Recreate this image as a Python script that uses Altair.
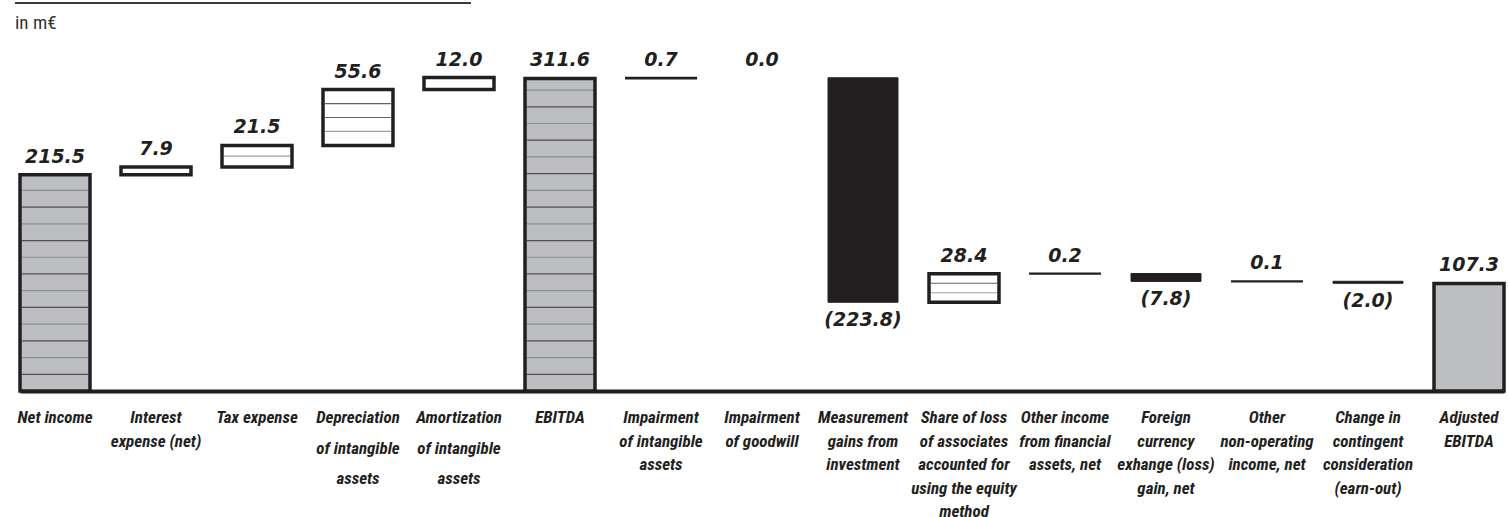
import altair as alt
import pandas as pd

# Bridge from net income to adjusted EBITDA (in m€); "|" marks a line break in the labels
categories = [
    "Net income",
    "Interest|expense (net)",
    "Tax expense",
    "Depreciation|of intangible|assets",
    "Amortization|of intangible|assets",
    "EBITDA",
    "Impairment|of intangible|assets",
    "Impairment|of goodwill",
    "Measurement|gains from|investment",
    "Share of loss|of associates|accounted for|using the equity|method",
    "Other income|from financial|assets, net",
    "Foreign|currency|exhange (loss)|gain, net",
    "Other|non-operating|income, net",
    "Change in|contingent|consideration|(earn-out)",
    "Adjusted|EBITDA",
]
values = [215.5, 7.9, 21.5, 55.6, 12.0, 311.6, 0.7, 0.0, -223.8, 28.4, 0.2, -7.8, 0.1, -2.0, 107.3]
is_total = [True, False, False, False, False, True, False, False, False, False, False, False, False, False, True]

# Decoration: which bars carry horizontal hatching
striped_totals = ["Net income", "EBITDA"]
flow_stripe_counts = {
    "Tax expense": 1,
    "Depreciation|of intangible|assets": 3,
    "Share of loss|of associates|accounted for|using the equity|method": 2,
}
TOTAL_STRIPE_STEP = 16.67
wide_label_rows = ["Depreciation|of intangible|assets", "Amortization|of intangible|assets"]

INK = "#231f20"
GREY = "#bdbec2"
MID = "#77787b"
VALUE_FONT = "DejaVu Sans"
LABEL_FONT = "Roboto Condensed, DejaVu Sans Condensed, sans-serif"

# Waterfall table: each step starts where the running total left off
rows = []
running = 0.0
for cat, v, tot in zip(categories, values, is_total):
    if tot:
        start, end = 0.0, v
        running = v
    else:
        start, end = running, running + v
        running = end
    if tot:
        kind = "total"
    elif v == 0:
        kind = "none"
    elif abs(v) < 1:
        kind = "thin"
    elif v > 0:
        kind = "up"
    else:
        kind = "down"
    label = f"({abs(v):.1f})" if v < 0 else f"{v:.1f}"
    rows.append(dict(cat=cat, lo=min(start, end), hi=max(start, end),
                     kind=kind, label=label))
df = pd.DataFrame(rows)

# Hatching lines inside the bars
stripe_rows = []
for r in rows:
    if r["cat"] in striped_totals:
        k = 1
        while k * TOTAL_STRIPE_STEP < r["hi"] - 5:
            stripe_rows.append(dict(cat=r["cat"], y=k * TOTAL_STRIPE_STEP,
                                    shade="dark" if k % 2 else "mid"))
            k += 1
    n = flow_stripe_counts.get(r["cat"], 0)
    for j in range(1, n + 1):
        stripe_rows.append(dict(cat=r["cat"],
                                y=r["lo"] + (r["hi"] - r["lo"]) * j / (n + 1),
                                shade="mid" if j == 1 else "dark"))
stripes = pd.DataFrame(stripe_rows)

xscale = alt.Scale(domain=categories, paddingInner=0.307, paddingOuter=0)
yscale = alt.Scale(domain=[0, 342], nice=False, zero=False)
x_enc = alt.X("cat:N", scale=xscale, sort=categories, title=None,
              axis=alt.Axis(labels=False, ticks=False, grid=False, domain=True,
                            domainWidth=4, domainColor=INK))

base = alt.Chart(df).encode(
    x=x_enc,
    y=alt.Y("lo:Q", scale=yscale, axis=None),
    y2="hi:Q",
)

totals = base.transform_filter(alt.datum.kind == "total").mark_bar(
    fill=GREY, stroke=INK, strokeWidth=3.5)
ups = base.transform_filter(alt.datum.kind == "up").mark_bar(
    fill="white", stroke=INK, strokeWidth=3.5)
downs = base.transform_filter(alt.datum.kind == "down").mark_bar(
    fill=INK, stroke=INK, strokeWidth=1)
thins = base.transform_filter(alt.datum.kind == "thin").mark_bar(
    fill="white", stroke=INK, strokeWidth=2)

hatch = alt.Chart(stripes).mark_tick(size=66, thickness=1.2).encode(
    x=x_enc,
    y=alt.Y("y:Q", scale=yscale, axis=None),
    color=alt.Color("shade:N", scale=alt.Scale(domain=["dark", "mid"], range=[INK, MID]),
                    legend=None),
)

value_style = dict(font=VALUE_FONT, fontSize=19, fontStyle="italic", fontWeight="bold",
                   color=INK, align="center", baseline="alphabetic")
labels_up = alt.Chart(df).transform_filter(alt.datum.kind != "down").mark_text(
    dy=-12, **value_style).encode(
    x=x_enc, y=alt.Y("hi:Q", scale=yscale, axis=None), text="label:N")
labels_down = alt.Chart(df).transform_filter(alt.datum.kind == "down").mark_text(
    dy=24, **value_style).encode(
    x=x_enc, y=alt.Y("lo:Q", scale=yscale, axis=None), text="label:N")

cat_style = dict(font=LABEL_FONT, fontSize=17, fontStyle="italic", fontWeight="bold",
                 color=INK, align="center", baseline="alphabetic", lineBreak="|")
cat_labels = alt.Chart(df).transform_filter(
    ~alt.FieldOneOfPredicate(field="cat", oneOf=wide_label_rows)
).mark_text(lineHeight=23.5, **cat_style).encode(
    x=x_enc, y=alt.value(375), text="cat:N")
cat_labels_wide = alt.Chart(df).transform_filter(
    alt.FieldOneOfPredicate(field="cat", oneOf=wide_label_rows)
).mark_text(lineHeight=30.5, **cat_style).encode(
    x=x_enc, y=alt.value(375), text="cat:N")

note_df = pd.DataFrame({"t": ["in m€"]})
unit_note = alt.Chart(note_df).mark_text(
    align="left", baseline="alphabetic", font=LABEL_FONT, fontSize=19, color="#333333"
).encode(x=alt.value(-5), y=alt.value(-19), text="t:N")
top_rule = alt.Chart(note_df).mark_rule(color="#3a3a3a", strokeWidth=2).encode(
    x=alt.value(-5), x2=alt.value(451), y=alt.value(-45))

chart = alt.layer(
    totals, ups, downs, thins, hatch, labels_up, labels_down,
    cat_labels, cat_labels_wide, unit_note, top_rule,
).properties(
    width=1484,
    height=343,
    autosize=alt.AutoSizeParams(type="none"),
    padding={"left": 20, "top": 48, "right": 4, "bottom": 126},
).configure_view(stroke=None)

chart.save("out.html", embed_options={"renderer": "svg", "actions": False})
